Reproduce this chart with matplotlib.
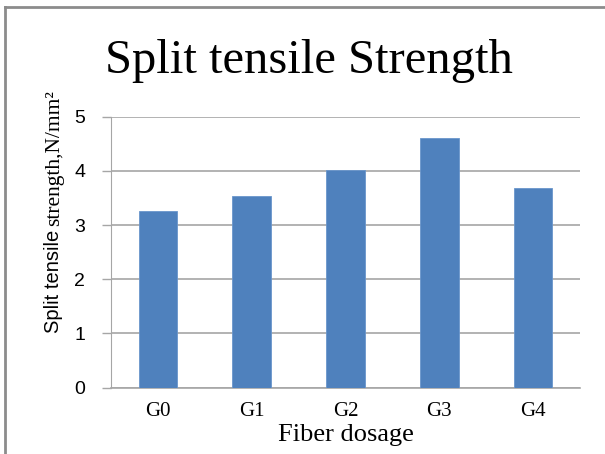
import matplotlib
matplotlib.use("Agg")
import matplotlib.pyplot as plt
from matplotlib.lines import Line2D

categories = ["G0", "G1", "G2", "G3", "G4"]
strength = [3.25, 3.54, 4.02, 4.61, 3.68]
y_ticks = [0, 1, 2, 3, 4, 5]

W, H = 605, 454
fig = plt.figure(figsize=(W / 100, H / 100), dpi=100)
ax = fig.add_axes([111 / W, 1 - 387.5 / H, (580 - 111) / W, (387.5 - 116.7) / H])

x = range(len(categories))
ax.bar(x, strength, width=0.41, color="#4F81BD", edgecolor="#6a96cc", linewidth=0.6, zorder=3)

ax.set_xlim(-0.5, len(categories) - 0.5)
ax.set_ylim(0, 5)
ax.set_yticks(y_ticks)
ax.set_yticklabels([str(t) for t in y_ticks], family="Liberation Sans", fontsize=14)
ax.set_xticks(list(x))
ax.set_xticklabels(categories, family="Liberation Serif", fontsize=15)

ax.yaxis.grid(True, color="#a6a6a6", linewidth=1.2, zorder=0)
ax.set_axisbelow(True)
for s in ["top", "right"]:
    ax.spines[s].set_visible(False)
ax.spines["left"].set_color("#a6a6a6")
ax.spines["bottom"].set_color("#a6a6a6")
ax.spines["bottom"].set_linewidth(1.2)
ax.tick_params(axis="y", length=6.5, color="#a6a6a6", width=1, pad=12)
ax.tick_params(axis="x", length=0, pad=10.5)

ax.set_xlabel("Fiber dosage", family="Liberation Serif", fontsize=19, labelpad=2)

# y label: first part in sans, rest in serif (as in the original)
fig.canvas.draw()
renderer = fig.canvas.get_renderer()
base_x = 59 / W
t1 = fig.text(base_x, 1 - 333 / H, "Split tensile", family="Liberation Sans", fontsize=14.5,
              rotation=90, ha="left", va="baseline", rotation_mode="anchor")
bb = t1.get_window_extent(renderer)
fig.text(base_x, (bb.y1 + 4) / H, "strength,N/mm²", family="Liberation Serif", fontsize=15.5,
         rotation=90, ha="left", va="baseline", rotation_mode="anchor")

fig.text(309 / W, 1 - 73 / H, "Split tensile Strength", family="Liberation Serif",
         fontsize=35, ha="center", va="baseline")

# outer border (left and top only)
fig.add_artist(Line2D([5 / W, 5 / W], [0, 1 - 7 / H], transform=fig.transFigure, color="#8c8c8c", linewidth=2))
fig.add_artist(Line2D([5 / W, 1], [1 - 7 / H, 1 - 7 / H], transform=fig.transFigure, color="#8c8c8c", linewidth=2))

fig.savefig("out.png", dpi=100)
